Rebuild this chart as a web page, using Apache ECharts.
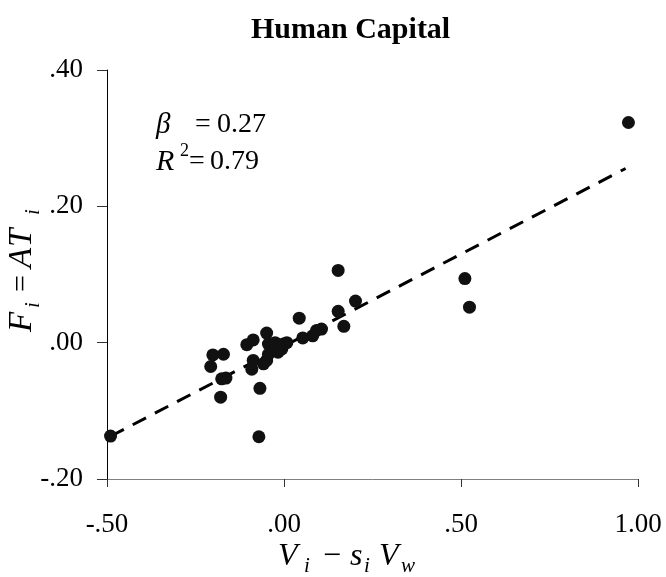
<!DOCTYPE html>
<html>
<head>
<meta charset="utf-8">
<script src="https://cdn.jsdelivr.net/npm/echarts@6/dist/echarts.min.js"></script>
<style>
  html, body { margin: 0; padding: 0; background: #fff; }
  #chart { width: 666px; height: 577px; }
</style>
</head>
<body>
<div id="chart"></div>
<script>
// Observations: excess human-capital endowment vs. factor content of trade
const xValues = [
  -0.490, -0.071, -0.179, -0.068, -0.164, -0.176, -0.207, -0.201, -0.171,
  -0.105, -0.087, -0.049, -0.091, -0.087, -0.058, -0.049, -0.044, -0.035,
  -0.025, -0.006, -0.002, 0.008, -0.016, -0.044, -0.017, 0.053, 0.043,
  0.081, 0.092, 0.106, 0.153, 0.153, 0.169, 0.202, 0.511, 0.524, 0.973
];
const yValues = [
  -0.137, -0.138, -0.080, -0.067, -0.052, -0.053, -0.035, -0.018, -0.017,
  -0.003, 0.004, 0.014, -0.039, -0.026, -0.031, -0.026, -0.017, -0.007,
  0.000, -0.009, -0.002, 0.000, -0.004, -0.002, -0.014, 0.007, 0.036,
  0.010, 0.018, 0.020, 0.106, 0.046, 0.024, 0.061, 0.094, 0.052, 0.323
];

// Fitted line
const slope = 0.27;
const intercept = -0.005;
const fitRange = [-0.49, 0.965];

// Axis ticks
const xTicks = [-0.5, 0, 0.5, 1.0];
const xTickLabels = ['-.50', '.00', '.50', '1.00'];
const yTicks = [-0.2, 0, 0.2, 0.4];
const yTickLabels = ['-.20', '.00', '.20', '.40'];

const statBeta = '0.27';
const statR2 = '0.79';

const SERIF = '"Liberation Serif", "Times New Roman", serif';

function tickLabel(ticks, labels) {
  return function (v) {
    for (let i = 0; i < ticks.length; i++) {
      if (Math.abs(ticks[i] - v) < 1e-9) return labels[i];
    }
    return '';
  };
}

// One text run of a typeset formula
function run(text, x, y, size, isItalic) {
  return {
    type: 'text',
    x: x, y: y,
    style: {
      text: text,
      fontFamily: SERIF,
      fontSize: size,
      fontStyle: isItalic ? 'italic' : 'normal',
      fill: '#000',
      align: 'left',
      verticalAlign: 'top'
    }
  };
}

const points = xValues.map((x, i) => [x, yValues[i]]);
const fitLine = fitRange.map(x => [x, intercept + slope * x]);

const chart = echarts.init(document.getElementById('chart'), null, { renderer: 'canvas' });

chart.setOption({
  animation: false,
  backgroundColor: '#fff',
  title: {
    text: 'Human Capital',
    left: 246,
    top: 10,
    textStyle: { fontFamily: SERIF, fontWeight: 'bold', fontSize: 30, color: '#000' }
  },
  grid: { left: 107, right: 28, top: 70, bottom: 98, containLabel: false },
  xAxis: {
    type: 'value',
    min: -0.5, max: 1.0, interval: 0.5,
    splitLine: { show: false },
    axisLine: { onZero: false, lineStyle: { color: '#808080', width: 1 } },
    axisTick: { show: true, inside: false, length: 8, lineStyle: { color: '#333' } },
    axisLabel: {
      margin: 32,
      fontFamily: SERIF, fontSize: 27, color: '#000',
      formatter: tickLabel(xTicks, xTickLabels)
    }
  },
  yAxis: {
    type: 'value',
    min: -0.2, max: 0.4, interval: 0.2,
    splitLine: { show: false },
    axisLine: { onZero: false, lineStyle: { color: '#000', width: 1 } },
    axisTick: { show: true, inside: false, length: 10, lineStyle: { color: '#333' } },
    axisLabel: {
      margin: 24,
      fontFamily: SERIF, fontSize: 27, color: '#000',
      formatter: tickLabel(yTicks, yTickLabels)
    }
  },
  graphic: [
    // regression statistics
    {
      type: 'group',
      children: [
        run('β', 156, 111, 29, true),
        run('=', 195, 111, 28, false),
        run(statBeta, 217, 111, 28, false),
        run('R', 156, 147, 30, true),
        run('2', 180, 142, 18, false),
        run('=', 189, 148, 28, false),
        run(statR2, 210, 148, 28, false)
      ]
    },
    // x-axis title
    {
      type: 'group',
      children: [
        run('V', 278, 541, 32, true),
        run('i', 304, 556, 21, true),
        run('−', 323, 541, 32, false),
        run('s', 350, 541, 32, true),
        run('i', 364, 556, 21, true),
        run('V', 379, 541, 32, true),
        run('w', 401, 556, 21, true)
      ]
    },
    // y-axis title, reading upward
    {
      type: 'group',
      x: 0, y: 332,
      rotation: Math.PI / 2,
      children: [
        run('F', 0, 6, 33, true),
        run('i', 24, 23, 21, true),
        run('=', 40, 7, 30, false),
        run('A', 64, 6, 33, true),
        run('T', 85, 6, 33, true),
        run('i', 117, 23, 21, true)
      ]
    }
  ],
  series: [
    {
      type: 'line',
      data: fitLine,
      symbol: 'none',
      z: 2,
      lineStyle: { color: '#000', width: 3, type: [15, 10] }
    },
    {
      type: 'scatter',
      data: points,
      symbol: 'circle',
      symbolSize: 13,
      z: 3,
      itemStyle: { color: '#111', opacity: 1 }
    }
  ]
});
</script>
</body>
</html>
